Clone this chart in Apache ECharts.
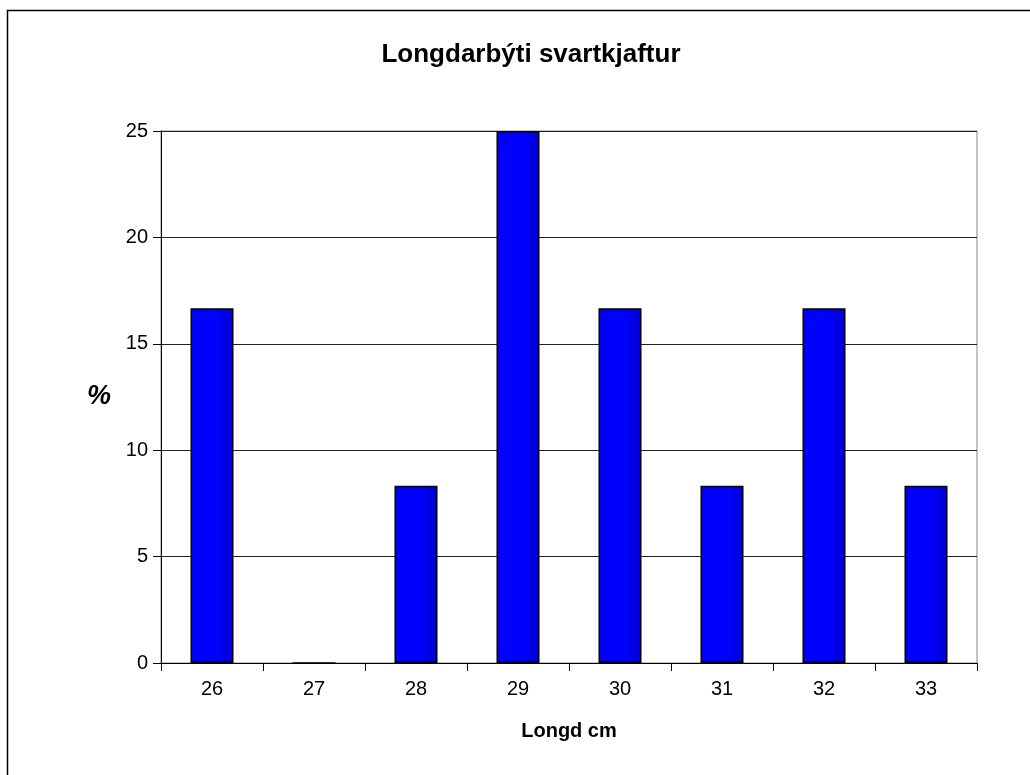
<!DOCTYPE html>
<html><head><meta charset="utf-8">
<script src="https://cdn.jsdelivr.net/npm/echarts@6/dist/echarts.min.js"></script>
<style>html,body{margin:0;padding:0;background:#fff}#c{width:1030px;height:775px}</style>
</head><body><div id="c"></div>
<script>
const categories = ['26','27','28','29','30','31','32','33'];
const values = [16.67, 0, 8.33, 25, 16.67, 8.33, 16.67, 8.33];
const yTicks = [0, 5, 10, 15, 20, 25];
const titleText = 'Longdarbýti svartkjaftur';
const xName = 'Longd cm';
const yName = '%';

const chart = echarts.init(document.getElementById('c'), null, {renderer:'canvas'});
chart.setOption({
  animation: false,
  backgroundColor: '#fff',
  title: {text: titleText, left: 526, top: 37, textAlign: 'center',
    textStyle: {fontFamily: 'Liberation Sans', fontWeight: 'bold', fontSize: 26, color: '#000'}},
  graphic: [{type: 'rect', shape: {x: 7.5, y: 10.5, width: 1100, height: 1000},
    style: {fill: 'none', stroke: '#000', lineWidth: 1.5}, z: 100}],
  grid: {left: 161, top: 131, right: 53, bottom: 112, show: true, borderColor: '#888', borderWidth: 1},
  xAxis: {type: 'category', data: categories,
    name: xName, nameLocation: 'middle', nameGap: 58,
    nameTextStyle: {fontFamily: 'Liberation Sans', fontWeight: 'bold', fontSize: 20, color: '#000'},
    axisLine: {lineStyle: {color: '#000', width: 1}},
    axisTick: {show: true, length: 8, inside: false, lineStyle: {color: '#000'}},
    axisLabel: {fontFamily: 'Liberation Sans', fontSize: 20, color: '#000', margin: 16},
    splitLine: {show: false}},
  yAxis: {type: 'value', min: yTicks[0], max: yTicks[yTicks.length-1], interval: 5,
    name: yName, nameLocation: 'middle', nameGap: 50, nameRotate: 0,
    nameTextStyle: {fontFamily: 'Liberation Sans', fontWeight: 'bold', fontStyle: 'italic', fontSize: 27, color: '#000', padding: [4, 0, 0, 0]},
    axisLine: {show: true, lineStyle: {color: '#000', width: 1}},
    axisTick: {show: true, length: 8, lineStyle: {color: '#000'}},
    axisLabel: {fontFamily: 'Liberation Sans', fontSize: 20, color: '#000', margin: 13},
    splitLine: {show: true, lineStyle: {color: '#222', width: 1}}},
  series: [{type: 'bar', data: values, barWidth: 43,
    itemStyle: {color: new echarts.graphic.LinearGradient(0,0,1,0,[{offset:0,color:'#0000ff'},{offset:0.6,color:'#0000ff'},{offset:1,color:'#0000cc'}]),
      borderColor: '#000', borderWidth: 1.5}}]
});
</script></body></html>
